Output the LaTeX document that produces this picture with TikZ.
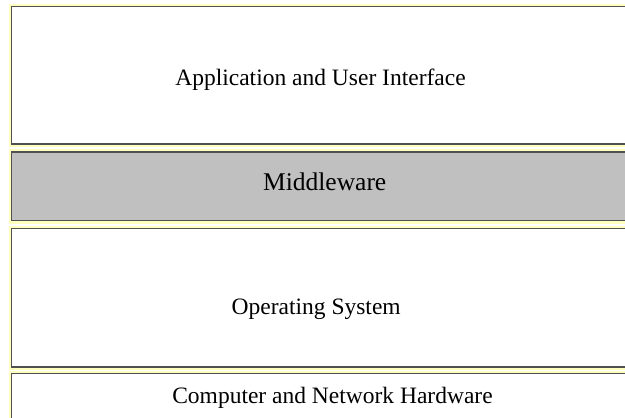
\documentclass[tikz,border=0pt]{standalone}
\usepackage{fontspec}
\setmainfont{Liberation Serif}
\definecolor{halo}{RGB}{255,255,190}
\definecolor{edge}{RGB}{80,80,80}
\definecolor{midgray}{RGB}{192,192,192}
\tikzset{
  halobox/.style={draw=halo, line width=6pt},
  layerbox/.style={draw=edge, line width=1.4pt, fill=white},
  graybox/.style={layerbox, fill=midgray},
  layertext/.style={anchor=base, inner sep=0pt, font=\fontsize{23.5}{28}\selectfont},
  midtext/.style={anchor=base, inner sep=0pt, font=\fontsize{25.5}{30}\selectfont}
}
\begin{document}
\begin{tikzpicture}[x=1pt,y=-1pt]
\useasboundingbox (0,0) rectangle (625,418);
\clip (0,0) rectangle (625,418);
\fill[white] (0,0) rectangle (625,418);
% halos
\draw[halobox] (11.5,6.5) rectangle (660,144);
\draw[halobox] (11.5,152) rectangle (660,220.5);
\draw[halobox] (11.5,228.5) rectangle (660,367);
\draw[halobox] (11.5,373.5) rectangle (660,440);
% boxes
\draw[layerbox] (11.5,6.5) rectangle (660,144);
\draw[graybox] (11.5,152) rectangle (660,220.5);
\draw[layerbox] (11.5,228.5) rectangle (660,367);
\draw[layerbox] (11.5,373.5) rectangle (660,440);
% labels
\node[layertext] (app) at (320.5,85) {Application and User Interface};
\node[midtext] (mid) at (324.7,190) {Middleware};
\node[layertext] (os) at (316.2,314) {Operating System};
\node[layertext] (hw) at (332.5,403) {Computer and Network Hardware};
\end{tikzpicture}
\end{document}
